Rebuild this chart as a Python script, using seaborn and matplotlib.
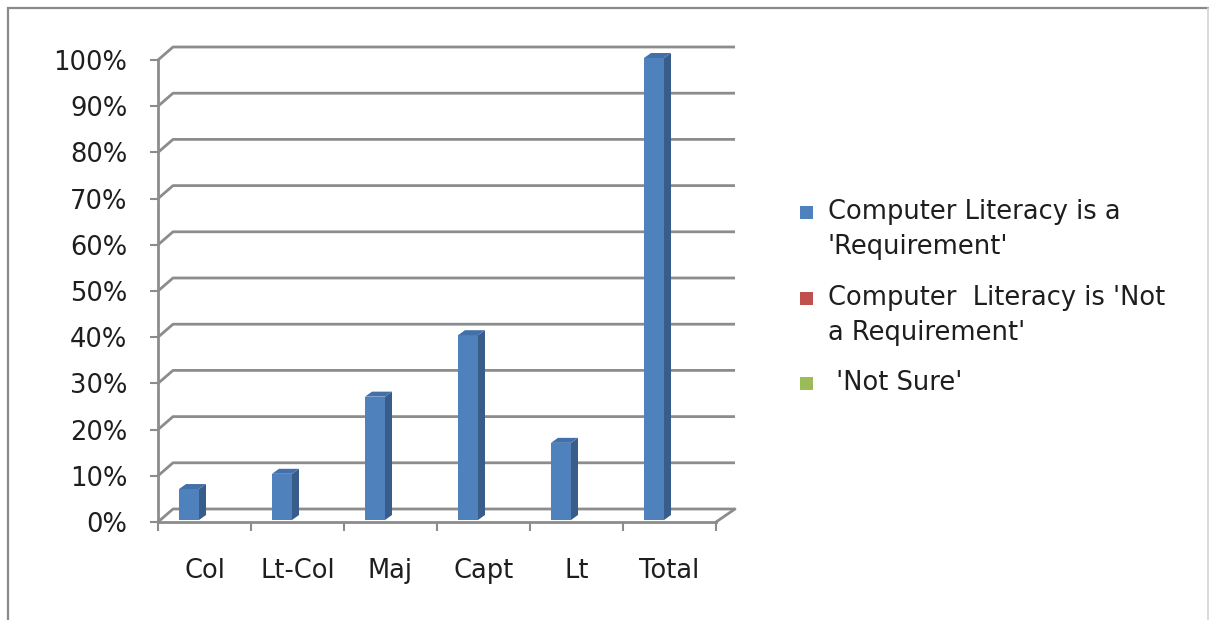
import numpy as np
import pandas as pd
import matplotlib
matplotlib.use("Agg")
import matplotlib.pyplot as plt
from matplotlib.patches import Polygon, Rectangle
import seaborn as sns

# ---- data -------------------------------------------------------------
ranks = ["Col", "Lt-Col", "Maj", "Capt", "Lt", "Total"]
series = [
    "Computer Literacy is a\n'Requirement'",
    "Computer  Literacy is 'Not\na Requirement'",
    " 'Not Sure'",
]
requirement = [6.7, 10.0, 26.7, 40.0, 16.7, 100.0]
not_requirement = [0.0, 0.0, 0.0, 0.0, 0.0, 0.0]
not_sure = [0.0, 0.0, 0.0, 0.0, 0.0, 0.0]
y_ticks = [0, 10, 20, 30, 40, 50, 60, 70, 80, 90, 100]
y_tick_labels = [f"{v}%" for v in y_ticks]

colors = ["#4F81BD", "#C0504D", "#9BBB59"]
side_color = "#385D8A"
top_color = "#4370AA"
grid_color = "#8C8C8C"
text_color = "#1E1E1E"
FONT = ["DejaVu Sans"]
FS = 18.5

df = pd.DataFrame({
    "rank": ranks * 3,
    "series": [series[0]] * 6 + [series[1]] * 6 + [series[2]] * 6,
    "value": requirement + not_requirement + not_sure,
})

# ---- figure -----------------------------------------------------------
W, H, DPI = 1209, 620, 100
sns.set_style("white")
plt.rcParams["font.family"] = FONT
fig = plt.figure(figsize=(W / DPI, H / DPI), dpi=DPI)
fig.patch.set_facecolor("white")

# plot area in pixels (front plane)
x0p, x1p, y0p, y1p = 158, 716, 522, 60
ax = fig.add_axes([x0p / W, (H - y0p) / H, (x1p - x0p) / W, (y0p - y1p) / H])
ax.set_facecolor("none")

ux = len(ranks) / (x1p - x0p)   # data units per pixel, x
uy = 100 / (y0p - y1p)          # data units per pixel, y

sns.barplot(data=df, x="rank", y="value", hue="series", hue_order=series,
            palette=colors, width=0.645, saturation=1, legend=False,
            edgecolor="none", linewidth=0, ax=ax, zorder=3)
ax.set_xlim(-0.5, len(ranks) - 0.5)
ax.set_ylim(0, 100)

# back wall / floor grid of the 3-D box
depth_x, depth_y = 15 * ux, 13 * uy
right_back = -0.5 + (735 - x0p) * ux
for v in y_ticks:
    ax.plot([-0.5, -0.5 + depth_x, right_back], [v, v + depth_y, v + depth_y],
            color=grid_color, lw=2, clip_on=False, zorder=1,
            solid_capstyle="butt")
ax.plot([right_back, len(ranks) - 0.5], [depth_y, 0], color=grid_color,
        lw=2, clip_on=False, zorder=1)

# 3-D faces on the bars
shift_x, shift_y = 4.5 * ux, 2 * uy
sx, sy = 7 * ux, 5 * uy
for p in list(ax.patches):
    h = p.get_height()
    if h <= 0:
        continue
    p.set_clip_on(False)
    p.set_x(p.get_x() + shift_x)
    p.set_y(p.get_y() + shift_y)
    xl = p.get_x()
    xr = xl + p.get_width()
    yb = p.get_y()
    yt = yb + h
    ax.add_patch(Polygon([(xr, yb), (xr + sx, yb + sy), (xr + sx, yt + sy), (xr, yt)],
                         closed=True, facecolor=side_color, edgecolor="none",
                         zorder=3, clip_on=False))
    ax.add_patch(Polygon([(xl, yt), (xl + sx, yt + sy), (xr + sx, yt + sy), (xr, yt)],
                         closed=True, facecolor=top_color, edgecolor="none",
                         zorder=3, clip_on=False))

# axes lines and ticks
for side in ["top", "right"]:
    ax.spines[side].set_visible(False)
for side in ["left", "bottom"]:
    ax.spines[side].set_color(grid_color)
    ax.spines[side].set_linewidth(2)
    ax.spines[side].set_zorder(2)

ax.set_yticks(y_ticks, labels=y_tick_labels)
ax.set_xticks(range(len(ranks)), labels=ranks)
ax.set_xticks(np.arange(-0.5, len(ranks), 1.0), minor=True)
ax.tick_params(axis="y", which="major", length=6, width=1.5, color=grid_color,
               direction="out", pad=16, labelsize=FS, labelcolor=text_color,
               left=True)
ax.tick_params(axis="x", which="major", length=0, pad=26, labelsize=FS,
               labelcolor=text_color)
ax.tick_params(axis="x", which="minor", length=6.5, width=1.5, color=grid_color,
               direction="out", bottom=True)
ax.set_xlabel("")
ax.set_ylabel("")
ax.grid(False)

# legend
leg_ax = fig.add_axes([0, 0, 1, 1], facecolor="none")
leg_ax.set_xlim(0, W)
leg_ax.set_ylim(H, 0)
leg_ax.axis("off")
marker_y = [212, 298, 383]
for name, col, my in zip(series, colors, marker_y):
    leg_ax.add_patch(Rectangle((800, my - 6.5), 13, 13, facecolor=col,
                               edgecolor="none"))
    lines = name.split("\n")
    for i, line in enumerate(lines):
        leg_ax.text(828, my + 35 * i, line, fontsize=FS, color=text_color,
                    va="center", ha="left")

# chart frame
leg_ax.plot([8, 8, W], [H + 5, 8, 8], color="#8A8A8A", lw=1.6,
            clip_on=False, solid_joinstyle="miter")
leg_ax.plot([W - 1.5, W - 1.5], [8, H], color="#D4D4D4", lw=1.2, clip_on=False)

fig.savefig("out.png", dpi=DPI, facecolor="white")
